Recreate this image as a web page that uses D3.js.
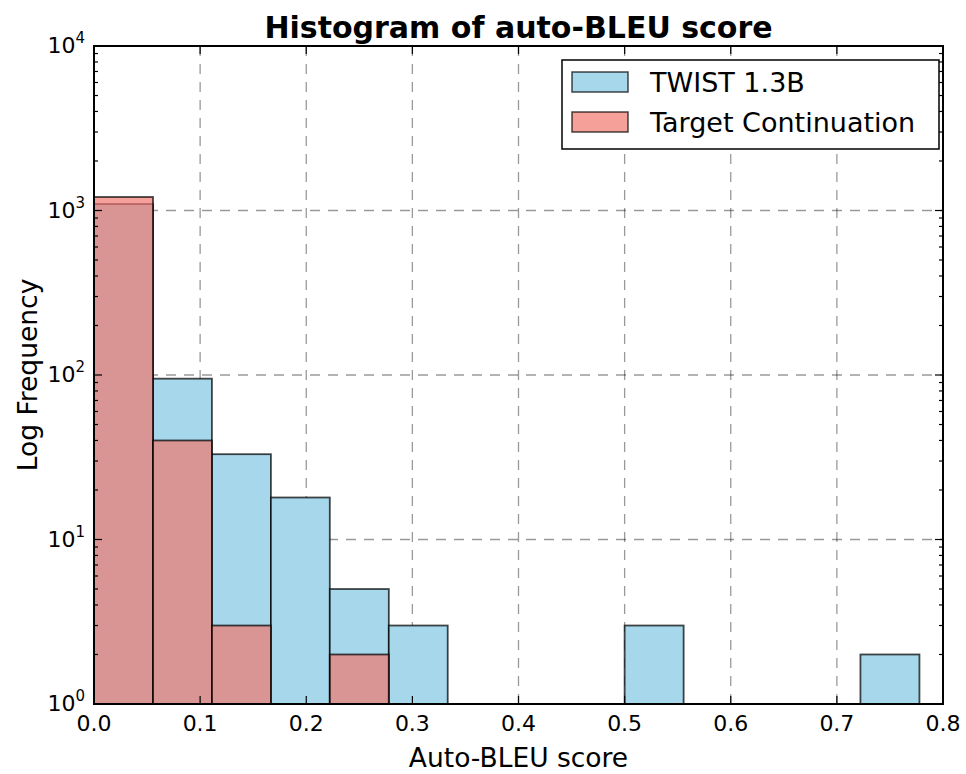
<!DOCTYPE html>
<html>
<head>
<meta charset="utf-8">
<script src="https://cdn.jsdelivr.net/npm/d3@7"></script>
<style>
  body { margin: 0; background: #fff; }
  text { font-family: "DejaVu Sans", sans-serif; fill: #000; }
</style>
</head>
<body>
<div id="chart"></div>
<script>
// bin edges (18 bins over 0..1, only the first 14 are shown)
const binEdges = [0, 0.0556, 0.1111, 0.1667, 0.2222, 0.2778, 0.3333, 0.3889,
  0.4444, 0.5, 0.5556, 0.6111, 0.6667, 0.7222, 0.7778];
const twistCounts  = [1095, 95, 33, 18, 5, 3, 0, 0, 0, 3, 0, 0, 0, 2];
const targetCounts = [1208, 40, 3, 0, 2, 0, 0, 0, 0, 0, 0, 0, 0, 0];
const seriesNames = ["TWIST 1.3B", "Target Continuation"];
const xTicks = [0, 0.1, 0.2, 0.3, 0.4, 0.5, 0.6, 0.7, 0.8];
const yTicks = [1, 10, 100, 1000, 10000];

const width = 966, height = 774;
const margin = { top: 46, right: 23, bottom: 70, left: 94 };
const iw = width - margin.left - margin.right;
const ih = height - margin.top - margin.bottom;

const svg = d3.select("#chart").append("svg")
  .attr("width", width)
  .attr("height", height);

const g = svg.append("g")
  .attr("transform", `translate(${margin.left},${margin.top})`);

const x = d3.scaleLinear().domain([0, 0.8]).range([0, iw]);
const y = d3.scaleLog().domain([1, 10000]).range([ih, 0]);

// grid
g.append("g").selectAll("line.vg")
  .data(xTicks.slice(1, -1))
  .enter().append("line")
  .attr("x1", d => x(d)).attr("x2", d => x(d))
  .attr("y1", 0).attr("y2", ih)
  .attr("stroke", "#000").attr("stroke-opacity", 0.4)
  .attr("stroke-width", 1.3)
  .attr("stroke-dasharray", "10,8");

g.append("g").selectAll("line.hg")
  .data(yTicks.slice(1, -1))
  .enter().append("line")
  .attr("x1", 0).attr("x2", iw)
  .attr("y1", d => y(d)).attr("y2", d => y(d))
  .attr("stroke", "#000").attr("stroke-opacity", 0.4)
  .attr("stroke-width", 1.3)
  .attr("stroke-dasharray", "10,8");

function bins(counts) {
  return counts.map((c, i) => ({ x0: binEdges[i], x1: binEdges[i + 1], c }))
    .filter(d => d.c > 0);
}

g.append("g").selectAll("rect")
  .data(bins(twistCounts))
  .enter().append("rect")
  .attr("x", d => x(d.x0))
  .attr("width", d => x(d.x1) - x(d.x0))
  .attr("y", d => y(d.c))
  .attr("height", d => ih - y(d.c))
  .attr("fill", "#a6d7eb")
  .attr("stroke", "rgba(0,0,0,0.72)")
  .attr("stroke-width", 1.8);

g.append("g").selectAll("rect")
  .data(bins(targetCounts))
  .enter().append("rect")
  .attr("x", d => x(d.x0))
  .attr("width", d => x(d.x1) - x(d.x0))
  .attr("y", d => y(d.c))
  .attr("height", d => ih - y(d.c))
  .attr("fill", "rgba(240,118,108,0.69)")
  .attr("stroke", "rgba(0,0,0,0.72)")
  .attr("stroke-width", 1.8);

// ticks (inward, on all sides)
const ticks = g.append("g").attr("stroke", "#000").attr("stroke-width", 1.2);
xTicks.forEach(t => {
  ticks.append("line").attr("x1", x(t)).attr("x2", x(t)).attr("y1", ih).attr("y2", ih - 8);
  ticks.append("line").attr("x1", x(t)).attr("x2", x(t)).attr("y1", 0).attr("y2", 8);
});
const minor = [];
for (let e = 0; e < 4; e++) for (let m = 2; m <= 9; m++) minor.push(m * Math.pow(10, e));
yTicks.forEach(t => {
  ticks.append("line").attr("x1", 0).attr("x2", 8).attr("y1", y(t)).attr("y2", y(t));
  ticks.append("line").attr("x1", iw).attr("x2", iw - 8).attr("y1", y(t)).attr("y2", y(t));
});
minor.forEach(t => {
  ticks.append("line").attr("x1", 0).attr("x2", 4).attr("y1", y(t)).attr("y2", y(t));
  ticks.append("line").attr("x1", iw).attr("x2", iw - 4).attr("y1", y(t)).attr("y2", y(t));
});

// frame
g.append("rect")
  .attr("width", iw).attr("height", ih)
  .attr("fill", "none").attr("stroke", "#000").attr("stroke-width", 2);

// tick labels
g.append("g").selectAll("text")
  .data(xTicks)
  .enter().append("text")
  .attr("x", d => x(d))
  .attr("y", ih + 27)
  .attr("text-anchor", "middle")
  .style("font-size", "22px")
  .text(d => d3.format(".1f")(d));

const yl = g.append("g").selectAll("text")
  .data(yTicks)
  .enter().append("text")
  .attr("x", -9)
  .attr("y", d => y(d) + 7)
  .attr("text-anchor", "end")
  .style("font-size", "22px");
yl.append("tspan").text("10");
yl.append("tspan")
  .attr("dy", -10)
  .style("font-size", "15px")
  .text(d => Math.round(Math.log10(d)));

// titles
svg.append("text")
  .attr("x", margin.left + iw / 2)
  .attr("y", 38)
  .attr("text-anchor", "middle")
  .style("font-size", "30px")
  .style("font-weight", "bold")
  .text("Histogram of auto-BLEU score");

svg.append("text")
  .attr("x", margin.left + iw / 2)
  .attr("y", 767)
  .attr("text-anchor", "middle")
  .style("font-size", "26.5px")
  .text("Auto-BLEU score");

svg.append("text")
  .attr("transform", `translate(37,${margin.top + ih / 2}) rotate(-90)`)
  .attr("text-anchor", "middle")
  .style("font-size", "26.5px")
  .text("Log Frequency");

// legend
const lg = svg.append("g").attr("transform", "translate(562,60)");
lg.append("rect")
  .attr("width", 377).attr("height", 89)
  .attr("fill", "#fff").attr("stroke", "#000").attr("stroke-width", 1.5);
const swatch = ["#a6d7eb", "#f5a19a"];
const items = lg.selectAll("g.item")
  .data(seriesNames)
  .enter().append("g")
  .attr("transform", (d, i) => `translate(10,${12 + i * 40})`);
items.append("rect")
  .attr("width", 56).attr("height", 20)
  .attr("fill", (d, i) => swatch[i])
  .attr("stroke", "rgba(0,0,0,0.72)")
  .attr("stroke-width", 1.5);
items.append("text")
  .attr("x", 78)
  .attr("y", 20)
  .style("font-size", "27px")
  .text(d => d);
</script>
</body>
</html>
